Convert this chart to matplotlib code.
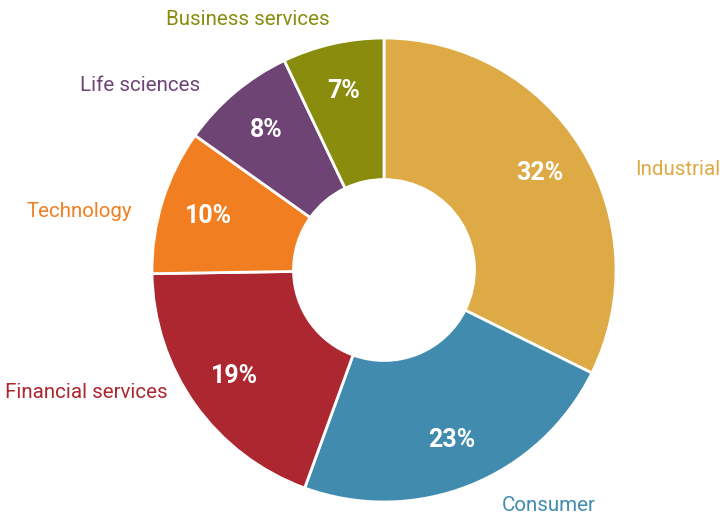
import matplotlib
matplotlib.use("Agg")
import matplotlib.pyplot as plt
import numpy as np
from matplotlib.font_manager import FontProperties

categories = ["Industrial", "Consumer", "Financial services", "Technology", "Life sciences", "Business services"]
values = [32, 23, 19, 10, 8, 7]
colors = ["#DEAA45", "#418CAE", "#AD2730", "#F17F22", "#6D4474", "#898C0C"]

# label anchor placement (data units, radius 1 = outer ring) and alignment
label_pos = [(1.084, 0.435), (0.509, -1.013), (-0.931, -0.530),
             (-1.086, 0.250), (-0.793, 0.797), (-0.586, 1.078)]
label_ha = ["left", "left", "right", "right", "right", "center"]

fam = ["Roboto", "DejaVu Sans"]
fp_reg = FontProperties(family=fam)
fp_bold = FontProperties(family=fam, weight="bold")

fig = plt.figure(figsize=(7.2, 5.21), dpi=100)
ax = fig.add_axes([0, 0, 1, 1])

wedges, _ = ax.pie(values, colors=colors, startangle=90, counterclock=False,
                   radius=1.0, wedgeprops=dict(width=0.61, edgecolor="white", linewidth=2))
ax.set_xlim(-384/232, (720-384)/232)
ax.set_ylim(-(521-270)/232, 270/232)
ax.set_aspect("auto")
ax.axis("off")

renderer = fig.canvas.get_renderer()

def fit_size(txt, fp, target_px, maxsize):
    t = fig.text(0, 0, txt, fontproperties=fp)
    t.set_fontsize(20)
    w = t.get_window_extent(renderer).width
    t.remove()
    return min(maxsize, 20 * target_px / w)

pct_size = fit_size("32%", fp_bold, 48, 18)
lab_size = fit_size("Financial services", fp_reg, 162, 18)

for w, v in zip(wedges, values):
    ang = np.deg2rad((w.theta1 + w.theta2) / 2)
    r = 0.79
    t = ax.text(r*np.cos(ang), r*np.sin(ang), f"{v}%", ha="center", va="center",
                color="white", fontproperties=fp_bold)
    t.set_fontsize(pct_size)

for name, (x, y), c, ha in zip(categories, label_pos, colors, label_ha):
    t = ax.text(x, y, name, ha=ha, va="center", color=c, fontproperties=fp_reg)
    t.set_fontsize(lab_size)

fig.savefig("out.png", dpi=100)
